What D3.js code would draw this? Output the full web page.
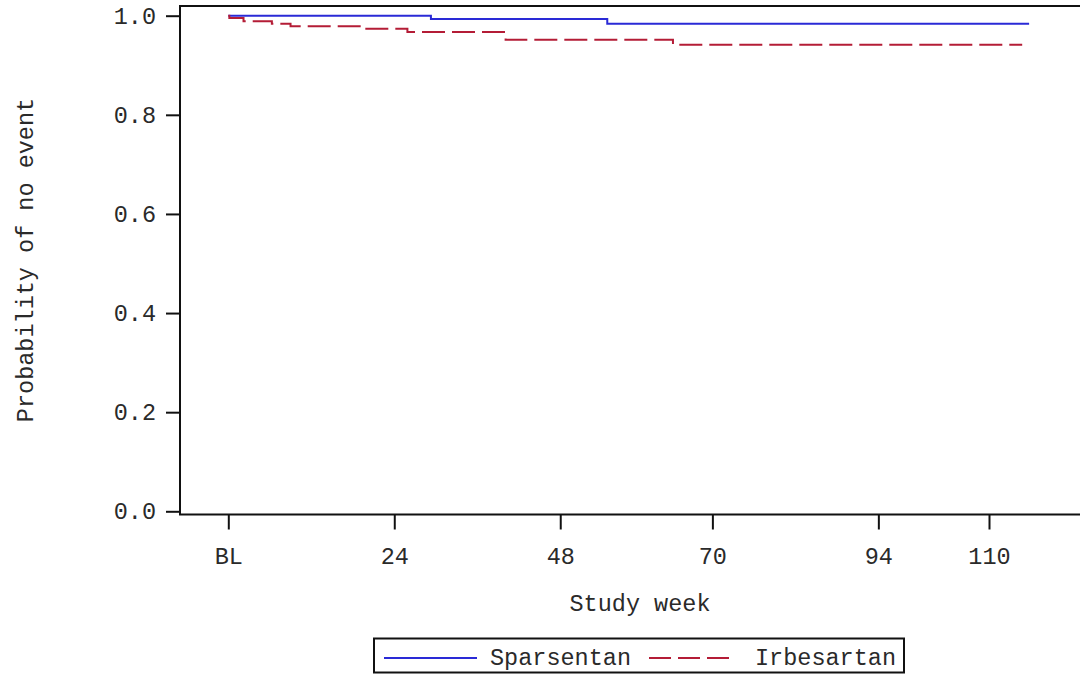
<!DOCTYPE html>
<html>
<head>
<meta charset="utf-8">
<script src="https://cdn.jsdelivr.net/npm/d3@7"></script>
<style>
  body { margin: 0; background: #fff; }
  svg { display: block; }
  text { font-family: "Liberation Mono", "Courier New", monospace; fill: #2a2a2a; }
</style>
</head>
<body>
<svg id="km" width="1080" height="675"></svg>
<script>
// study weeks and survival estimates
var spWeeks = [0, 29.3, 54.8, 115.8];
var spSurv  = [1, 0.9933, 0.9839, 0.9839];
var irWeeks = [0, 0.15, 2.2, 6.3, 9.0, 19.0, 25.9, 40.1, 64.3, 114.8];
var irSurv  = [1, 0.9953, 0.9887, 0.9839, 0.9786, 0.9738, 0.9671, 0.9516, 0.9415, 0.9415];
var xTickValues = [0, 24, 48, 70, 94, 110];
var xTickLabels = ["BL", "24", "48", "70", "94", "110"];
var yTickValues = [0, 0.2, 0.4, 0.6, 0.8, 1.0];
var seriesNames = ["Sparsentan", "Irbesartan"];

function kmPlot() {
    var svg = d3.select("#km");
    var blue = "#2a2ad6", red = "#b41c36";
    var fs = "23.5px";

    var x = d3.scaleLinear().domain([0, 110]).range([228.3, 989]),
        y = d3.scaleLinear().domain([0, 1]).range([511.3, 15.7]);

    var left = 180, top = 6, bottom = 514.5, right = 1084;

    // y axis
    var yAxis = svg.append("g")
        .attr("transform", "translate(" + left + ",0)")
        .call(d3.axisLeft(y).tickValues(yTickValues).tickSize(14).tickPadding(10)
            .tickFormat(d3.format(".1f")));
    yAxis.select(".domain").remove();
    yAxis.selectAll("line").attr("stroke", "#111").attr("stroke-width", 2);
    yAxis.selectAll("text").attr("font-size", fs).attr("fill", "#2a2a2a");

    // x axis
    var xAxis = svg.append("g")
        .attr("transform", "translate(0," + bottom + ")")
        .call(d3.axisBottom(x).tickValues(xTickValues).tickSize(15)
            .tickFormat(function(d, i) { return xTickLabels[i]; }));
    xAxis.select(".domain").remove();
    xAxis.selectAll("line").attr("stroke", "#111").attr("stroke-width", 2);
    xAxis.selectAll("text").attr("font-size", fs).attr("y", 33).attr("fill", "#2a2a2a");

    // frame (top, left, bottom)
    svg.append("path")
       .attr("d", "M" + right + "," + top + "H" + left + "V" + bottom + "H" + right)
       .attr("fill", "none")
       .attr("stroke", "#111")
       .attr("stroke-width", 2);

    // axis titles
    svg.append("text")
       .attr("x", 640).attr("y", 611)
       .attr("text-anchor", "middle")
       .attr("font-size", fs)
       .text("Study week");

    svg.append("text")
       .attr("transform", "translate(33,260) rotate(-90)")
       .attr("text-anchor", "middle")
       .attr("font-size", fs)
       .text("Probability of no event");

    var line = d3.line()
        .curve(d3.curveStepAfter)
        .x(function(d) { return x(d[0]); })
        .y(function(d) { return y(d[1]); });

    svg.append("path")
       .datum(d3.zip(spWeeks, spSurv))
       .attr("d", line)
       .attr("fill", "none")
       .attr("stroke", blue)
       .attr("stroke-width", 2);

    svg.append("path")
       .datum(d3.zip(irWeeks, irSurv))
       .attr("d", line)
       .attr("fill", "none")
       .attr("stroke", red)
       .attr("stroke-width", 2)
       .attr("stroke-dasharray", "23,7");

    // legend
    var lg = svg.append("g");
    lg.append("rect")
      .attr("x", 374).attr("y", 638.5)
      .attr("width", 530).attr("height", 34)
      .attr("fill", "#fff")
      .attr("stroke", "#111")
      .attr("stroke-width", 2);
    lg.append("line")
      .attr("x1", 384).attr("x2", 477).attr("y1", 658).attr("y2", 658)
      .attr("stroke", blue).attr("stroke-width", 2);
    lg.append("text")
      .attr("x", 490).attr("y", 665)
      .attr("font-size", fs)
      .text(seriesNames[0]);
    lg.append("line")
      .attr("x1", 649).attr("x2", 734).attr("y1", 658).attr("y2", 658)
      .attr("stroke", red).attr("stroke-width", 2)
      .attr("stroke-dasharray", "22,7");
    lg.append("text")
      .attr("x", 755).attr("y", 665)
      .attr("font-size", fs)
      .text(seriesNames[1]);
}

kmPlot();
</script>
</body>
</html>
